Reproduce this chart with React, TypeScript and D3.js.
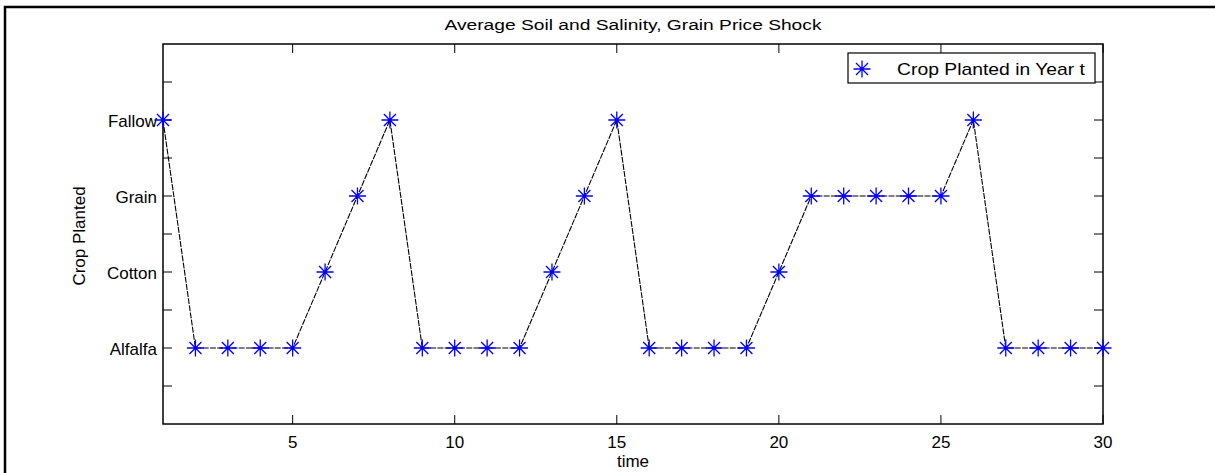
import React, { useEffect, useRef } from 'react';
import * as d3 from 'd3';

// crop planted each year, coded 1 = Alfalfa ... 4 = Fallow
const years = d3.range(1, 31);
const crops = [4, 1, 1, 1, 1, 2, 3, 4, 1, 1, 1, 1, 2, 3, 4, 1, 1, 1, 1, 2, 3, 3, 3, 3, 3, 4, 1, 1, 1, 1];
const cropNames = ['Alfalfa', 'Cotton', 'Grain', 'Fallow'];
const xTicks = [5, 10, 15, 20, 25, 30];
const yTicks = [0.5, 1, 1.5, 2, 2.5, 3, 3.5, 4, 4.5];

const W = 1215, H = 473;
const L = 163, R = 1103, T = 44, B = 424;
const FONT = 'Liberation Sans, Arial, sans-serif';

function star(g: any, x: number, y: number) {
  const r = 8.5, d = 6;
  const p = `M${x - r},${y}L${x + r},${y}M${x},${y - r}L${x},${y + r}` +
    `M${x - d},${y - d}L${x + d},${y + d}M${x - d},${y + d}L${x + d},${y - d}`;
  g.append('path').attr('d', p).attr('stroke', '#0000ff').attr('stroke-width', 1.3).attr('fill', 'none');
}

export default function App() {
  const ref = useRef<SVGSVGElement>(null);

  useEffect(() => {
    const svg = d3.select(ref.current);
    svg.selectAll('*').remove();

    const x = d3.scaleLinear().domain([1, 30]).range([L, R]);
    const y = d3.scaleLinear().domain([0, 5]).range([B, T]);

    // outer figure frame
    svg.append('path').attr('d', `M5,${H}L5,7L${W},7`).attr('fill', 'none')
      .attr('stroke', '#000').attr('stroke-width', 2.5);

    svg.append('rect').attr('x', L).attr('y', T).attr('width', R - L).attr('height', B - T)
      .attr('fill', '#fff').attr('stroke', '#000').attr('stroke-width', 1.5);

    const tl = 9;
    const ax = svg.append('g').attr('stroke', '#000').attr('stroke-width', 1);
    xTicks.forEach(t => {
      ax.append('line').attr('x1', x(t)).attr('x2', x(t)).attr('y1', B).attr('y2', B - tl);
      ax.append('line').attr('x1', x(t)).attr('x2', x(t)).attr('y1', T).attr('y2', T + tl);
    });
    yTicks.forEach(t => {
      ax.append('line').attr('x1', L).attr('x2', L + tl).attr('y1', y(t)).attr('y2', y(t));
      ax.append('line').attr('x1', R).attr('x2', R - tl).attr('y1', y(t)).attr('y2', y(t));
    });

    const txt = svg.append('g').attr('font-family', FONT).attr('font-size', 17).attr('fill', '#000');
    xTicks.forEach(t => {
      txt.append('text').attr('x', x(t)).attr('y', B + 24).attr('text-anchor', 'middle').text(t);
    });
    cropNames.forEach((n, i) => {
      txt.append('text').attr('x', L - 6).attr('y', y(i + 1) + 6.5).attr('text-anchor', 'end').text(n);
    });
    txt.append('text').attr('x', (L + R) / 2).attr('y', 467).attr('text-anchor', 'middle').text('time');
    txt.append('text').attr('transform', `translate(85,${(T + B) / 2 + 2}) rotate(-90)`)
      .attr('text-anchor', 'middle').text('Crop Planted');
    txt.append('text').attr('x', (L + R) / 2).attr('y', 30).attr('text-anchor', 'middle')
      .attr('font-size', 15.5).attr('textLength', 377).attr('lengthAdjust', 'spacingAndGlyphs')
      .text('Average Soil and Salinity, Grain Price Shock');

    const line = d3.line<number>().x((_, i) => x(years[i])).y(d => y(d));
    svg.append('path').datum(crops).attr('d', line).attr('fill', 'none')
      .attr('stroke', '#000').attr('stroke-width', 1.1).attr('stroke-dasharray', '6,1.2');

    const mk = svg.append('g');
    crops.forEach((c, i) => star(mk, x(years[i]), y(c)));

    // legend
    const lg = svg.append('g');
    lg.append('rect').attr('x', 848).attr('y', 53).attr('width', 247).attr('height', 30)
      .attr('fill', '#fff').attr('stroke', '#000').attr('stroke-width', 1.2);
    star(lg, 862, 69);
    lg.append('text').attr('x', 897).attr('y', 75).attr('font-family', FONT).attr('font-size', 17)
      .attr('textLength', 188).attr('lengthAdjust', 'spacingAndGlyphs')
      .text('Crop Planted in Year t');
  }, []);

  return (
    <svg ref={ref} width={W} height={H}
      style={{ position: 'absolute', left: 0, top: 0, background: '#fff' }} />
  );
}
